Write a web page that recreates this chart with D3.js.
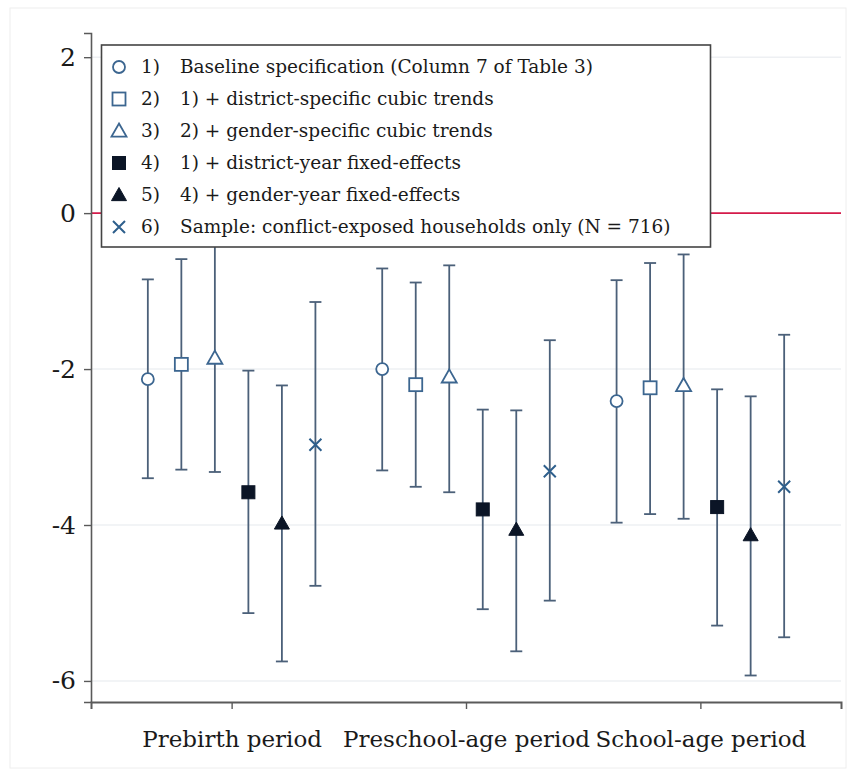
<!DOCTYPE html>
<html>
<head>
<meta charset="utf-8">
<script src="https://cdn.jsdelivr.net/npm/d3@7"></script>
<style>
  html, body { margin: 0; padding: 0; background: #ffffff; }
  svg { display: block; }
  text { font-family: "DejaVu Serif", "Liberation Serif", serif; fill: #1a1a1a; }
</style>
</head>
<body>
<script>
// Periods on the x axis
const periods = ["Prebirth period", "Preschool-age period", "School-age period"];

// Specification labels (number + description)
const specNumbers = ["1)", "2)", "3)", "4)", "5)", "6)"];
const specLabels = [
  "Baseline specification (Column 7 of Table 3)",
  "1) + district-specific cubic trends",
  "2) + gender-specific cubic trends",
  "1) + district-year fixed-effects",
  "4) + gender-year fixed-effects",
  "Sample: conflict-exposed households only (N = 716)"
];
const specSymbols = ["circle", "square", "triangle", "squareFilled", "triangleFilled", "cross"];

// Point estimates per specification, one value per period
const estimates = [
  [-2.13, -2.00, -2.41],
  [-1.94, -2.20, -2.24],
  [-1.86, -2.10, -2.21],
  [-3.58, -3.80, -3.77],
  [-3.98, -4.06, -4.13],
  [-2.97, -3.31, -3.51]
];
// Lower confidence bounds
const lowerCI = [
  [-3.40, -3.30, -3.97],
  [-3.29, -3.51, -3.86],
  [-3.32, -3.58, -3.92],
  [-5.13, -5.08, -5.29],
  [-5.75, -5.62, -5.93],
  [-4.78, -4.97, -5.44]
];
// Upper confidence bounds
const upperCI = [
  [-0.85, -0.71, -0.86],
  [-0.59, -0.89, -0.64],
  [-0.40, -0.67, -0.53],
  [-2.02, -2.52, -2.26],
  [-2.21, -2.53, -2.35],
  [-1.14, -1.63, -1.56]
];

const yTicks = [-6, -4, -2, 0, 2];

const W = 856, H = 775;
const svg = d3.select("body").append("svg").attr("width", W).attr("height", H);

// faint outer frame
svg.append("rect").attr("x", 10).attr("y", 8).attr("width", 836).attr("height", 760)
  .attr("fill", "#ffffff").attr("stroke", "#eeeeee").attr("stroke-width", 1);

const x = d3.scaleLinear().domain([0.4, 3.6]).range([91, 841]);
const y = d3.scaleLinear().domain([-6.27, 2.31]).range([702, 33]);
const step = 0.143; // horizontal spacing between specifications within a period

// gridlines
svg.append("g").selectAll("line").data(yTicks.filter(d => d !== 0)).join("line")
  .attr("x1", x(0.4)).attr("x2", x(3.6))
  .attr("y1", d => y(d)).attr("y2", d => y(d))
  .attr("stroke", "#eef0f3").attr("stroke-width", 1.5);

// reference line at zero
svg.append("line")
  .attr("x1", x(0.4)).attr("x2", x(3.6)).attr("y1", y(0)).attr("y2", y(0))
  .attr("stroke", "#d41a4a").attr("stroke-width", 1.6);

// axes
const yAxis = svg.append("g").attr("transform", `translate(${x(0.4)},0)`)
  .call(d3.axisLeft(y).tickValues(yTicks).tickSize(7).tickPadding(8).tickFormat(d => String(d)));
yAxis.select(".domain").attr("stroke", "#5a5a5a").attr("stroke-width", 1.6);
yAxis.selectAll(".tick line").attr("stroke", "#5a5a5a").attr("stroke-width", 1.4);
yAxis.selectAll(".tick text").attr("font-size", 25).attr("font-family", "DejaVu Serif").attr("fill", "#1a1a1a");

const xAxis = svg.append("g").attr("transform", `translate(0,${y(-6.27)})`)
  .call(d3.axisBottom(x).tickValues([1, 2, 3]).tickSize(7).tickPadding(22)
    .tickFormat(d => periods[d - 1]));
xAxis.select(".domain").attr("stroke", "#5a5a5a").attr("stroke-width", 2);
xAxis.selectAll(".tick line").attr("stroke", "#5a5a5a").attr("stroke-width", 1.4);
xAxis.selectAll(".tick text").attr("font-size", 23).attr("font-family", "DejaVu Serif").attr("fill", "#1a1a1a");

// colours
const barColor = "#4b6079";
const hollowColor = "#3c6690";
const filledColor = "#0b1526";
const crossColor = "#2e5f8c";

function drawSymbol(g, type, cx, cy) {
  if (type === "circle") {
    g.append("circle").attr("cx", cx).attr("cy", cy).attr("r", 6)
      .attr("fill", "#ffffff").attr("stroke", hollowColor).attr("stroke-width", 1.8);
  } else if (type === "square") {
    g.append("rect").attr("x", cx - 6.5).attr("y", cy - 6.5).attr("width", 13).attr("height", 13)
      .attr("fill", "#ffffff").attr("stroke", hollowColor).attr("stroke-width", 1.8);
  } else if (type === "squareFilled") {
    g.append("rect").attr("x", cx - 6.5).attr("y", cy - 6.5).attr("width", 13).attr("height", 13)
      .attr("fill", filledColor).attr("stroke", filledColor).attr("stroke-width", 1);
  } else if (type === "triangle" || type === "triangleFilled") {
    const s = 7.5;
    const pts = [[cx, cy - s], [cx + s, cy + s * 0.75], [cx - s, cy + s * 0.75]];
    g.append("polygon").attr("points", pts.map(p => p.join(",")).join(" "))
      .attr("fill", type === "triangle" ? "#ffffff" : filledColor)
      .attr("stroke", type === "triangle" ? hollowColor : filledColor)
      .attr("stroke-width", type === "triangle" ? 1.8 : 1);
  } else if (type === "cross") {
    const s = 6;
    g.append("path").attr("d", `M${cx - s},${cy - s}L${cx + s},${cy + s}M${cx - s},${cy + s}L${cx + s},${cy - s}`)
      .attr("stroke", crossColor).attr("stroke-width", 2).attr("fill", "none");
  }
}

// error bars and point estimates
const marks = svg.append("g");
specSymbols.forEach((sym, i) => {
  periods.forEach((p, j) => {
    const cx = x(j + 1 + (i - 2.5) * step);
    const cap = 6;
    const g = marks.append("g");
    g.append("line").attr("x1", cx).attr("x2", cx)
      .attr("y1", y(upperCI[i][j])).attr("y2", y(lowerCI[i][j]))
      .attr("stroke", barColor).attr("stroke-width", 1.8);
    [upperCI[i][j], lowerCI[i][j]].forEach(v => {
      g.append("line").attr("x1", cx - cap).attr("x2", cx + cap)
        .attr("y1", y(v)).attr("y2", y(v))
        .attr("stroke", barColor).attr("stroke-width", 1.8);
    });
    drawSymbol(g, sym, cx, y(estimates[i][j]));
  });
});

// legend
const legend = svg.append("g");
legend.append("rect").attr("x", 101.5).attr("y", 45).attr("width", 609).attr("height", 202)
  .attr("fill", "#ffffff").attr("stroke", "#444444").attr("stroke-width", 1.6);
specLabels.forEach((lab, i) => {
  const cy = 67 + i * 32;
  const row = legend.append("g");
  drawSymbol(row, specSymbols[i], 119, cy);
  row.append("text").attr("x", 141).attr("y", cy).attr("dy", "0.35em")
    .attr("font-size", 18.5).text(specNumbers[i]);
  row.append("text").attr("x", 180).attr("y", cy).attr("dy", "0.35em")
    .attr("font-size", 18.5).text(lab);
});
</script>
</body>
</html>
